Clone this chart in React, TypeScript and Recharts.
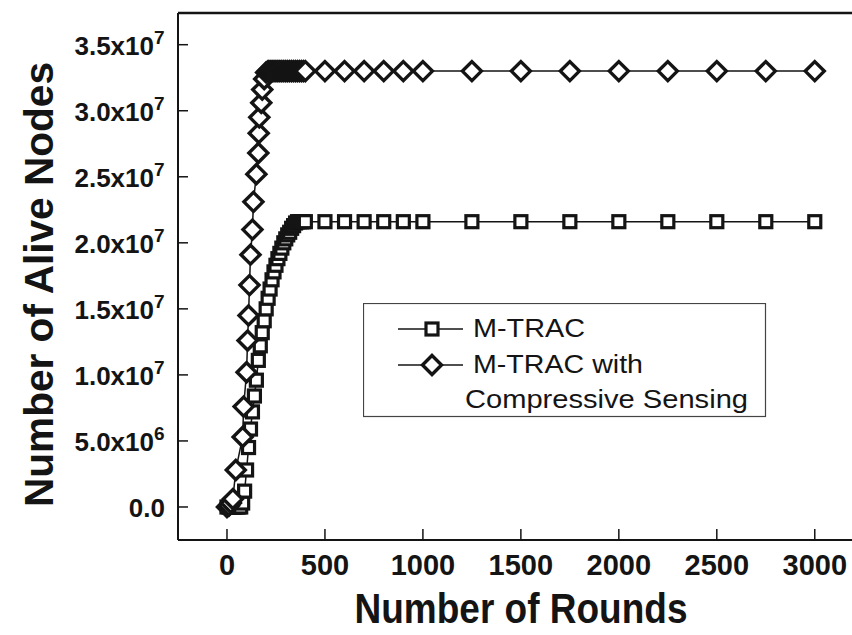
import React from "react";
import { LineChart, Line, XAxis, YAxis, Legend, Label, ReferenceLine } from "recharts";

const FONT = "'Liberation Sans', Arial, Helvetica, sans-serif";
const INK = "#141414";

// M-TRAC (squares)
const mtracRounds = [
  0, 10, 20, 30, 40, 50, 60, 70, 80, 90, 100, 110, 120, 130, 140, 150, 160, 170, 180, 190, 200,
  210, 220, 230, 240, 250, 260, 270, 280, 290, 300, 310, 320, 330, 340, 350, 360, 370, 380, 390, 400,
  500, 600, 700, 800, 900, 1000, 1250, 1500, 1750, 2000, 2250, 2500, 2750, 3000,
];
const mtracAlive = [
  0, 0, 0, 0, 0, 0, 0, 0, 0.3e6, 1.2e6, 2.8e6, 4.5e6, 5.9e6, 7.2e6, 8.4e6, 9.6e6, 11.1e6, 12.2e6, 13.2e6, 14.1e6, 15.0e6,
  15.8e6, 16.5e6, 17.2e6, 17.8e6, 18.3e6, 18.8e6, 19.2e6, 19.6e6, 20.0e6, 20.3e6, 20.6e6, 20.8e6, 21.1e6, 21.3e6, 21.5e6, 21.6e6, 21.6e6, 21.6e6, 21.6e6, 21.6e6,
  21.6e6, 21.6e6, 21.6e6, 21.6e6, 21.6e6, 21.6e6, 21.6e6, 21.6e6, 21.6e6, 21.6e6, 21.6e6, 21.6e6, 21.6e6, 21.6e6,
];

// M-TRAC with Compressive Sensing (diamonds)
const csRounds = [
  0, 10, 20, 30, 45, 80, 85, 100, 105, 110, 115, 120, 130, 135, 150, 160, 162, 165, 175, 180, 190, 200,
  210, 220, 230, 240, 250, 260, 270, 280, 290, 300, 310, 320, 330, 340, 350, 360, 370, 380, 390, 400,
  500, 600, 700, 800, 900, 1000, 1250, 1500, 1750, 2000, 2250, 2500, 2750, 3000,
];
const csAlive = [
  0, 0.1e6, 0.3e6, 0.6e6, 2.8e6, 5.3e6, 7.6e6, 10.2e6, 12.6e6, 14.5e6, 16.8e6, 19.1e6, 21.0e6, 23.1e6, 25.2e6, 26.8e6, 28.3e6, 29.5e6, 30.6e6, 31.6e6, 32.4e6, 32.9e6,
  33.0e6, 33.0e6, 33.0e6, 33.0e6, 33.0e6, 33.0e6, 33.0e6, 33.0e6, 33.0e6, 33.0e6, 33.0e6, 33.0e6, 33.0e6, 33.0e6, 33.0e6, 33.0e6, 33.0e6, 33.0e6, 33.0e6, 33.0e6,
  33.0e6, 33.0e6, 33.0e6, 33.0e6, 33.0e6, 33.0e6, 33.0e6, 33.0e6, 33.0e6, 33.0e6, 33.0e6, 33.0e6, 33.0e6, 33.0e6,
];

const xTicks = [0, 500, 1000, 1500, 2000, 2500, 3000];
const yTicks = [0, 5e6, 1e7, 1.5e7, 2e7, 2.5e7, 3e7, 3.5e7];
const X_DOMAIN = [-250, 3190];
const Y_DOMAIN = [-2.5e6, 3.74e7];

const SERIES_A = "M-TRAC";
const SERIES_B = "M-TRAC with";
const SERIES_B2 = "Compressive Sensing";

const mtracData = mtracRounds.map((x, i) => ({ x, y: mtracAlive[i] }));
const csData = csRounds.map((x, i) => ({ x, y: csAlive[i] }));

const diamondPath = (cx: number, cy: number, r: number) =>
  `M${cx},${cy - r}L${cx + r},${cy}L${cx},${cy + r}L${cx - r},${cy}Z`;

const SquareDot = (p: any) => {
  if (p.cx == null || p.cy == null) return <g key={`s-${p.index}`} />;
  return (
    <rect
      key={`s-${p.index}`}
      x={p.cx - 6}
      y={p.cy - 6}
      width={12}
      height={12}
      fill="#fff"
      stroke={INK}
      strokeWidth={3.2}
    />
  );
};

const DiamondDot = (p: any) => {
  if (p.cx == null || p.cy == null) return <g key={`d-${p.index}`} />;
  return (
    <path
      key={`d-${p.index}`}
      d={diamondPath(p.cx, p.cy, 9.5)}
      fill="#fff"
      stroke={INK}
      strokeWidth={3.4}
    />
  );
};

const YTick = ({ x, y, payload }: any) => {
  const v = payload.value as number;
  let main = "0.0";
  let sup = "";
  if (v !== 0) {
    const exp = Math.floor(Math.log10(v) + 1e-9);
    main = `${(v / Math.pow(10, exp)).toFixed(1)}x10`;
    sup = String(exp);
  }
  return (
    <g>
      <line x1={x + 13} x2={x + 23} y1={y} y2={y} stroke={INK} strokeWidth={1.5} />
      <text
        x={sup ? x - 11 : x}
        y={y + 10}
        textAnchor="end"
        fontFamily={FONT}
        fontWeight="bold"
        fontSize={26}
        fill={INK}
      >
        {main}
      </text>
      {sup && (
        <text x={x - 11} y={y - 1} fontFamily={FONT} fontWeight="bold" fontSize={19} fill={INK}>
          {sup}
        </text>
      )}
    </g>
  );
};

const XTick = ({ x, y, payload }: any) => (
  <g>
    <line x1={x} x2={x} y1={y - 11} y2={y} stroke={INK} strokeWidth={1.5} />
    <text
      x={x}
      y={y + 35}
      textAnchor="middle"
      fontFamily={FONT}
      fontWeight="bold"
      fontSize={29}
      fill={INK}
    >
      {payload.value}
    </text>
  </g>
);

const LegendBox = () => (
  <svg width={404} height={115} style={{ display: "block" }}>
    <rect x={0.5} y={0.5} width={402} height={113} fill="#fff" stroke="#444" strokeWidth={1.2} />
    <line x1={35} x2={100} y1={26} y2={26} stroke={INK} strokeWidth={1.5} />
    <rect x={63} y={20} width={12} height={12} fill="#fff" stroke={INK} strokeWidth={3.2} />
    <text x={110} y={34} fontFamily={FONT} fontSize={25} fill={INK} textLength={112} lengthAdjust="spacingAndGlyphs">
      {SERIES_A}
    </text>
    <line x1={35} x2={100} y1={62} y2={62} stroke={INK} strokeWidth={1.5} />
    <path d={diamondPath(69, 62, 9.5)} fill="#fff" stroke={INK} strokeWidth={3.4} />
    <text x={110} y={70} fontFamily={FONT} fontSize={25} fill={INK} textLength={170} lengthAdjust="spacingAndGlyphs">
      {SERIES_B}
    </text>
    <text x={102} y={105} fontFamily={FONT} fontSize={25} fill={INK} textLength={283} lengthAdjust="spacingAndGlyphs">
      {SERIES_B2}
    </text>
  </svg>
);

export default function App() {
  return (
    <div style={{ position: "absolute", left: 0, top: 0, width: 852, height: 635, background: "#fff" }}>
      <LineChart width={852} height={635} margin={{ top: 13, right: 0, bottom: 0, left: 0 }}>
        <XAxis
          dataKey="x"
          type="number"
          domain={X_DOMAIN}
          ticks={xTicks}
          allowDataOverflow
          height={95}
          tickLine={false}
          tickSize={0}
          tickMargin={0}
          axisLine={{ stroke: INK, strokeWidth: 2 }}
          tick={<XTick />}
        >
          <Label
            content={({ viewBox }: any) => (
              <text
                x={viewBox.x + viewBox.width / 2 + 6}
                y={viewBox.y + 83}
                textAnchor="middle"
                fontFamily={FONT}
                fontWeight="bold"
                fontSize={43}
                fill={INK}
                textLength={333}
                lengthAdjust="spacingAndGlyphs"
              >
                Number of Rounds
              </text>
            )}
          />
        </XAxis>
        <YAxis
          type="number"
          domain={Y_DOMAIN}
          ticks={yTicks}
          allowDataOverflow
          width={178}
          tickLine={false}
          tickSize={0}
          tickMargin={13}
          axisLine={{ stroke: INK, strokeWidth: 2 }}
          tick={<YTick />}
        >
          <Label
            content={({ viewBox }: any) => {
              const cx = 53;
              const cy = viewBox.y + viewBox.height / 2 + 8;
              return (
                <text
                  x={cx}
                  y={cy}
                  transform={`rotate(-90, ${cx}, ${cy})`}
                  textAnchor="middle"
                  fontFamily={FONT}
                  fontWeight="bold"
                  fontSize={40}
                  fill={INK}
                  textLength={445}
                  lengthAdjust="spacingAndGlyphs"
                >
                  Number of Alive Nodes
                </text>
              );
            }}
          />
        </YAxis>
        {/* top frame edge */}
        <ReferenceLine y={Y_DOMAIN[1]} stroke={INK} strokeWidth={2.5} />
        <Legend
          layout="horizontal"
          align="center"
          verticalAlign="middle"
          wrapperStyle={{ position: "absolute", left: 363, top: 303, width: 404, height: 115 }}
          content={() => <LegendBox />}
        />
        <Line
          data={mtracData}
          dataKey="y"
          name={SERIES_A}
          type="linear"
          stroke={INK}
          strokeWidth={1.5}
          dot={SquareDot}
          activeDot={false}
          isAnimationActive={false}
        />
        <Line
          data={csData}
          dataKey="y"
          name={`${SERIES_B} ${SERIES_B2}`}
          type="linear"
          stroke={INK}
          strokeWidth={1.5}
          dot={DiamondDot}
          activeDot={false}
          isAnimationActive={false}
        />
      </LineChart>
    </div>
  );
}
